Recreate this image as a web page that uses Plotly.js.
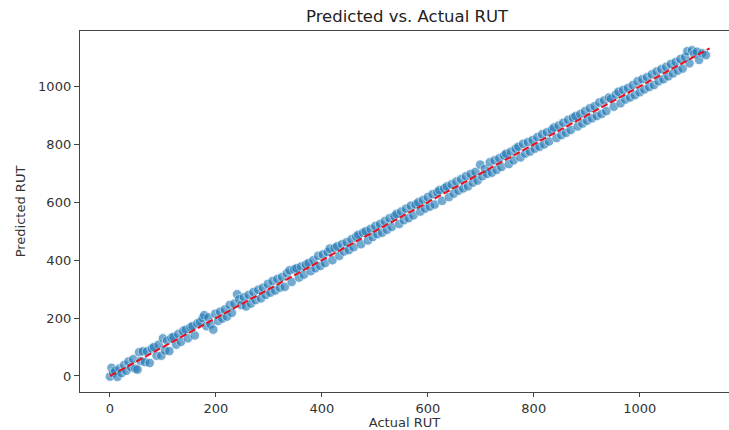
<!DOCTYPE html>
<html>
<head>
<meta charset="utf-8">
<script src="https://cdn.plot.ly/plotly-3.0.1.min.js"></script>
<style>html,body{margin:0;padding:0;background:#fff;}#chart{width:729px;height:430px;}</style>
</head>
<body>
<div id="chart"></div>
<script>
const actualRUT = [0,3,6,10,14,18,22,27,31,35,40,44,48,52,55,58,62,66,70,75,79,83,88,92,97,100,104,108,112,116,120,125,129,134,138,143,147,152,156,160,165,170,175,178,182,186,190,195,199,204,208,212,217,221,226,230,235,240,244,248,253,257,262,266,271,275,280,285,289,294,298,303,307,312,316,321,325,330,334,339,343,348,352,357,361,366,370,375,379,384,388,393,397,402,406,411,415,420,424,429,433,438,442,447,451,456,460,465,469,474,478,483,487,492,496,501,505,510,514,519,523,528,532,537,541,546,550,555,559,564,568,573,577,582,586,591,595,600,604,609,613,618,622,627,631,636,640,645,649,654,658,663,667,672,676,681,685,690,694,699,703,708,712,717,721,726,730,735,739,744,748,753,757,762,766,771,775,780,784,789,793,798,802,807,811,816,820,825,829,834,838,843,847,852,856,861,865,870,874,879,883,888,892,897,901,906,910,915,919,924,928,933,937,942,946,951,955,960,964,969,973,978,982,987,991,996,1000,1005,1009,1014,1018,1023,1027,1032,1036,1041,1045,1050,1054,1059,1063,1068,1072,1077,1081,1086,1090,1094,1099,1103,1108,1112,1118,1125];
const predictedRUT = [-2,28,10,18,-3,26,10,38,18,50,30,58,25,22,82,52,85,48,85,45,95,100,70,108,70,130,88,122,86,132,135,108,145,118,155,160,130,168,172,140,182,186,200,210,172,202,178,160,215,190,222,198,230,205,245,218,250,282,265,245,272,240,280,250,290,262,298,268,305,280,318,288,328,295,335,305,342,308,355,365,325,368,372,340,378,350,385,390,362,400,372,415,380,420,390,428,440,400,442,448,415,455,430,462,435,472,445,482,488,455,495,500,468,508,480,518,490,525,495,535,505,545,515,552,560,525,568,538,578,545,588,555,592,600,568,608,578,618,585,628,592,635,642,605,648,655,618,662,630,672,640,680,648,690,655,698,668,705,675,730,690,715,698,738,702,745,712,752,722,762,768,732,775,745,785,792,755,802,768,808,775,815,785,825,792,835,800,842,810,850,858,822,865,832,875,840,885,850,892,898,862,905,872,915,882,925,890,932,898,945,905,952,915,962,958,930,972,982,942,988,955,995,962,1005,970,1018,980,1025,990,1032,998,1042,1005,1052,1018,1060,1025,1068,1035,1078,1045,1085,1055,1095,1062,1102,1122,1080,1125,1112,1120,1092,1115,1108];
const lineEnds = [0, 1132];
const xTicks = [0, 200, 400, 600, 800, 1000];
const yTicks = [0, 200, 400, 600, 800, 1000];

const font = 'DejaVu Sans, sans-serif';
const data = [
  {
    x: actualRUT, y: predictedRUT, type: 'scatter', mode: 'markers',
    marker: {color: '#1f77b4', size: 9.5, opacity: 0.62, line: {color: '#ffffff', width: 0.75}},
    hoverinfo: 'x+y', showlegend: false
  },
  {
    x: lineEnds, y: lineEnds, type: 'scatter', mode: 'lines',
    line: {color: '#e8101c', width: 2, dash: '7px,3px'},
    showlegend: false
  }
];
const layout = {
  width: 729, height: 430,
  margin: {l: 80, r: 0, t: 31, b: 38},
  paper_bgcolor: '#fff', plot_bgcolor: '#fff',
  font: {family: font, size: 13, color: '#333'},
  title: {text: 'Predicted vs. Actual RUT', font: {family: font, size: 16.5, color: '#222'},
          x: 0.504, xanchor: 'center', xref: 'paper', y: 0.962, yref: 'container', yanchor: 'middle'},
  xaxis: {
    range: [-56.6, 1168.6], tickvals: xTicks, ticktext: xTicks.map(String),
    showgrid: false, zeroline: false, showline: true, mirror: true,
    linecolor: '#444', linewidth: 1.2, ticks: 'outside', ticklen: 4, tickwidth: 1, tickcolor: '#444',
    title: {text: 'Actual RUT', font: {family: font, size: 13, color: '#333'}, standoff: 10},
    automargin: false
  },
  yaxis: {
    range: [-55.4, 1191.7], tickvals: yTicks, ticktext: yTicks.map(String),
    showgrid: false, zeroline: false, showline: true, mirror: false,
    linecolor: '#444', linewidth: 1.2, ticks: 'outside', ticklen: 5, tickwidth: 1, tickcolor: '#444',
    title: {text: 'Predicted RUT', font: {family: font, size: 13, color: '#333'}, standoff: 9},
    automargin: false
  }
};
Plotly.newPlot('chart', data, layout, {displayModeBar: false, staticPlot: true});
</script>
</body>
</html>
